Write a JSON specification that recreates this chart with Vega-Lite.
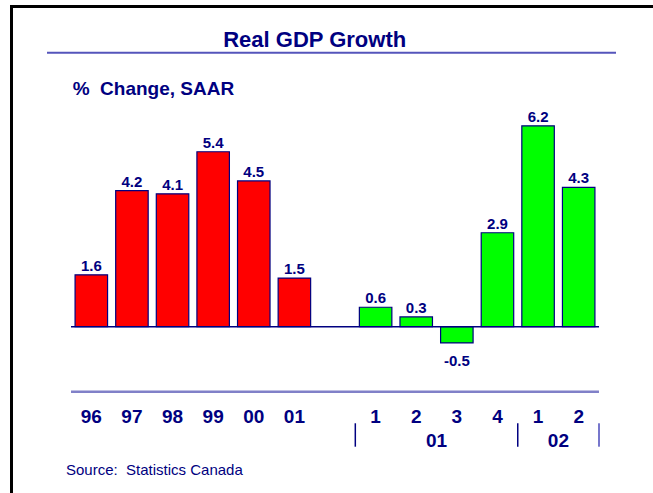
{
  "$schema": "https://vega.github.io/schema/vega-lite/v6.json",
  "autosize": {"type": "none"},
  "padding": {"left": 11, "top": 6, "right": 0, "bottom": 0},
  "width": 642,
  "height": 487,
  "config": {
    "view": {"stroke": null},
    "text": {"font": "Liberation Sans", "color": "#000080"},
    "axis": {"labels": false, "ticks": false, "grid": false, "title": null, "domainColor": "#000000", "domainWidth": 3, "domainCap": "square", "domainOpacity": 1},
    "locale": {"number": {"decimal": ".", "thousands": ",", "grouping": [3], "currency": ["$", ""], "minus": "-"}}
  },
  "datasets": {
    "bars": [
      {"key": "96", "tick": "96", "value": 1.6, "type": "Annual"},
      {"key": "97", "tick": "97", "value": 4.2, "type": "Annual"},
      {"key": "98", "tick": "98", "value": 4.1, "type": "Annual"},
      {"key": "99", "tick": "99", "value": 5.4, "type": "Annual"},
      {"key": "00", "tick": "00", "value": 4.5, "type": "Annual"},
      {"key": "01", "tick": "01", "value": 1.5, "type": "Annual"},
      {"key": "01Q1", "tick": "1", "value": 0.6, "type": "Quarterly"},
      {"key": "01Q2", "tick": "2", "value": 0.3, "type": "Quarterly"},
      {"key": "01Q3", "tick": "3", "value": -0.5, "type": "Quarterly"},
      {"key": "01Q4", "tick": "4", "value": 2.9, "type": "Quarterly"},
      {"key": "02Q1", "tick": "1", "value": 6.2, "type": "Quarterly"},
      {"key": "02Q2", "tick": "2", "value": 4.3, "type": "Quarterly"}
    ],
    "groups": [
      {"year": "01", "mid": "01Q2"},
      {"year": "02", "mid": "02Q1"}
    ]
  },
  "layer": [
    {
      "data": {"name": "bars"},
      "mark": {"type": "bar", "width": {"band": 0.8}, "stroke": "#000080", "strokeWidth": 1.2},
      "encoding": {
        "x": {
          "field": "key", "type": "nominal",
          "scale": {
            "domain": ["L", "96", "97", "98", "99", "00", "01", "gap", "01Q1", "01Q2", "01Q3", "01Q4", "02Q1", "02Q2", "R"],
            "paddingInner": 0, "paddingOuter": 0.4038, "align": 0.5915
          },
          "axis": {"orient": "top"}
        },
        "y": {
          "field": "value", "type": "quantitative",
          "scale": {"domain": [-5.133, 9.898], "nice": false, "zero": false},
          "axis": {"orient": "left"}
        },
        "color": {
          "field": "type", "type": "nominal",
          "scale": {"domain": ["Annual", "Quarterly"], "range": ["#ff0000", "#00ff00"]},
          "legend": null
        }
      }
    },
    {
      "data": {"name": "bars"},
      "transform": [{"filter": "datum.value >= 0"}],
      "mark": {"type": "text", "fontWeight": "bold", "fontSize": 15, "baseline": "alphabetic", "dy": -4},
      "encoding": {
        "x": {"field": "key", "type": "nominal", "bandPosition": 0.5, "axis": {"orient": "top"}},
        "y": {"field": "value", "type": "quantitative", "axis": {"orient": "left"}},
        "text": {"field": "value", "type": "quantitative", "format": ".1f"}
      }
    },
    {
      "data": {"name": "bars"},
      "transform": [{"filter": "datum.value < 0"}],
      "mark": {"type": "text", "fontWeight": "bold", "fontSize": 15, "baseline": "alphabetic", "dy": 23},
      "encoding": {
        "x": {"field": "key", "type": "nominal", "bandPosition": 0.5, "axis": {"orient": "top"}},
        "y": {"field": "value", "type": "quantitative", "axis": {"orient": "left"}},
        "text": {"field": "value", "type": "quantitative", "format": ".1f"}
      }
    },
    {
      "data": {"name": "bars"},
      "mark": {"type": "text", "fontWeight": "bold", "fontSize": 19, "baseline": "alphabetic"},
      "encoding": {
        "x": {"field": "key", "type": "nominal", "bandPosition": 0.5, "axis": {"orient": "top"}},
        "y": {"datum": -2.963, "type": "quantitative", "axis": {"orient": "left"}},
        "text": {"field": "tick", "type": "nominal"}
      }
    },
    {
      "data": {"name": "groups"},
      "mark": {"type": "text", "fontWeight": "bold", "fontSize": 19, "baseline": "alphabetic"},
      "encoding": {
        "x": {"field": "mid", "type": "nominal", "bandPosition": 1, "axis": {"orient": "top"}},
        "y": {"datum": -3.704, "type": "quantitative", "axis": {"orient": "left"}},
        "text": {"field": "year", "type": "nominal"}
      }
    },
    {
      "data": {"values": [{"at": "01Q1"}, {"at": "02Q1"}]},
      "mark": {"type": "rule", "color": "#000080", "strokeWidth": 1.5},
      "encoding": {
        "x": {"field": "at", "type": "nominal", "bandPosition": 0, "axis": {"orient": "top"}},
        "y": {"datum": -2.981, "type": "quantitative", "axis": {"orient": "left"}},
        "y2": {"datum": -3.704}
      }
    },
    {
      "data": {"values": [{"at": "02Q2"}]},
      "mark": {"type": "rule", "color": "#7777cc", "strokeWidth": 2},
      "encoding": {
        "x": {"field": "at", "type": "nominal", "bandPosition": 1, "axis": {"orient": "top"}},
        "y": {"datum": -2.981, "type": "quantitative", "axis": {"orient": "left"}},
        "y2": {"datum": -3.704}
      }
    },
    {
      "data": {"values": [{"from": "96", "to": "02Q2"}]},
      "mark": {"type": "rule", "color": "#000080", "strokeWidth": 1.5},
      "encoding": {
        "x": {"field": "from", "type": "nominal", "bandPosition": 0, "axis": {"orient": "top"}},
        "x2": {"field": "to", "bandPosition": 1},
        "y": {"datum": 0, "type": "quantitative", "axis": {"orient": "left"}}
      }
    },
    {
      "data": {"values": [{"from": "96", "to": "02Q2"}]},
      "mark": {"type": "rule", "color": "#8080c8", "strokeWidth": 2.5},
      "encoding": {
        "x": {"field": "from", "type": "nominal", "bandPosition": 0, "axis": {"orient": "top"}},
        "x2": {"field": "to", "bandPosition": 1},
        "y": {"datum": -2.006, "type": "quantitative", "axis": {"orient": "left"}}
      }
    },
    {
      "data": {"values": [{"from": "L", "to": "R"}]},
      "mark": {"type": "rule", "color": "#5555bb", "strokeWidth": 2},
      "encoding": {
        "x": {"field": "from", "type": "nominal", "bandPosition": 0.409, "axis": {"orient": "top"}},
        "x2": {"field": "to", "bandPosition": 0.419},
        "y": {"datum": 8.457, "type": "quantitative", "axis": {"orient": "left"}}
      }
    },
    {
      "data": {"values": [{"label": "Real GDP Growth", "at": "gap"}]},
      "mark": {"type": "text", "fontWeight": "bold", "fontSize": 22, "baseline": "alphabetic", "align": "center"},
      "encoding": {
        "x": {"field": "at", "type": "nominal", "bandPosition": 0, "axis": {"orient": "top"}},
        "y": {"datum": 8.633, "type": "quantitative", "axis": {"orient": "left"}},
        "text": {"field": "label", "type": "nominal"}
      }
    },
    {
      "data": {"values": [{"label": "%\u00a0 Change, SAAR", "at": "96"}]},
      "mark": {"type": "text", "fontWeight": "bold", "fontSize": 19, "baseline": "alphabetic", "align": "left"},
      "encoding": {
        "x": {"field": "at", "type": "nominal", "bandPosition": 0.04, "axis": {"orient": "top"}},
        "y": {"datum": 7.151, "type": "quantitative", "axis": {"orient": "left"}},
        "text": {"field": "label", "type": "nominal"}
      }
    },
    {
      "data": {"values": [{"label": "Source:\u00a0 Statistics Canada", "at": "L"}]},
      "mark": {"type": "text", "fontWeight": "normal", "fontSize": 15, "baseline": "alphabetic", "align": "left"},
      "encoding": {
        "x": {"field": "at", "type": "nominal", "bandPosition": 0.877, "axis": {"orient": "top"}},
        "y": {"datum": -4.577, "type": "quantitative", "axis": {"orient": "left"}},
        "text": {"field": "label", "type": "nominal"}
      }
    }
  ]
}
